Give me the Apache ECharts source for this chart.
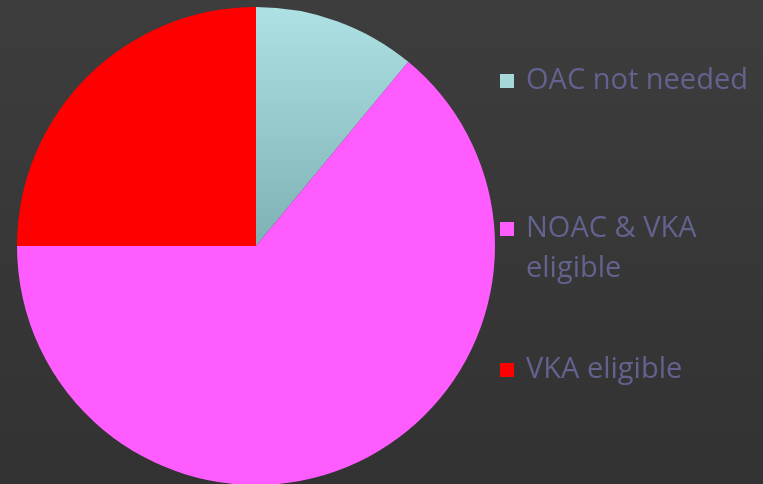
<!DOCTYPE html>
<html>
<head>
<meta charset="utf-8">
<style>
  html, body { margin: 0; padding: 0; background: #3a3a3a; }
  #chart { width: 763px; height: 484px; }
</style>
<script src="https://cdn.jsdelivr.net/npm/echarts@6/dist/echarts.min.js"></script>
</head>
<body>
<div id="chart"></div>
<script>
// Share of patients by anticoagulation eligibility (percent)
const categories = ['OAC not needed', 'NOAC & VKA eligible', 'VKA eligible'];
const legendLines = [['OAC not needed'], ['NOAC & VKA', 'eligible'], ['VKA eligible']];
const shares = [11, 64, 25];

const sliceColors = [
  new echarts.graphic.LinearGradient(0, 0, 0, 1, [
    { offset: 0, color: '#ade1e3' },
    { offset: 1, color: '#7db1b3' }
  ]),
  '#ff5cff',
  '#ff0000'
];
const swatchColors = ['#a6d8da', '#ff5cff', '#ff0000'];

// Legend layout (first-line centre of each entry)
const legendX = 500;
const legendTextX = 526;
const legendY = [81, 229, 370];
const lineStep = 40;
const textColor = '#62628e';
const fontFamily = '"Open Sans", Lato, sans-serif';

const legendGraphics = [];
categories.forEach((name, i) => {
  legendGraphics.push({
    type: 'rect',
    shape: { x: legendX, y: legendY[i] - 7, width: 14, height: 14 },
    style: { fill: swatchColors[i] }
  });
  legendLines[i].forEach((line, j) => {
    legendGraphics.push({
      type: 'text',
      x: legendTextX,
      y: legendY[i] + j * lineStep,
      style: {
        text: line,
        fill: textColor,
        font: '29px ' + fontFamily,
        verticalAlign: 'middle',
        align: 'left'
      }
    });
  });
});

const chart = echarts.init(document.getElementById('chart'), null, { renderer: 'canvas' });
chart.setOption({
  backgroundColor: new echarts.graphic.LinearGradient(0, 0, 0, 1, [
    { offset: 0, color: '#3d3d3d' },
    { offset: 1, color: '#323232' }
  ]),
  animation: false,
  series: [{
    type: 'pie',
    center: [256, 246],
    radius: 239,
    startAngle: 90,
    clockwise: true,
    label: { show: false },
    labelLine: { show: false },
    emphasis: { disabled: true },
    itemStyle: { borderWidth: 0 },
    data: categories.map((name, i) => ({
      name: name,
      value: shares[i],
      itemStyle: { color: sliceColors[i] }
    }))
  }],
  graphic: legendGraphics
});
</script>
</body>
</html>
